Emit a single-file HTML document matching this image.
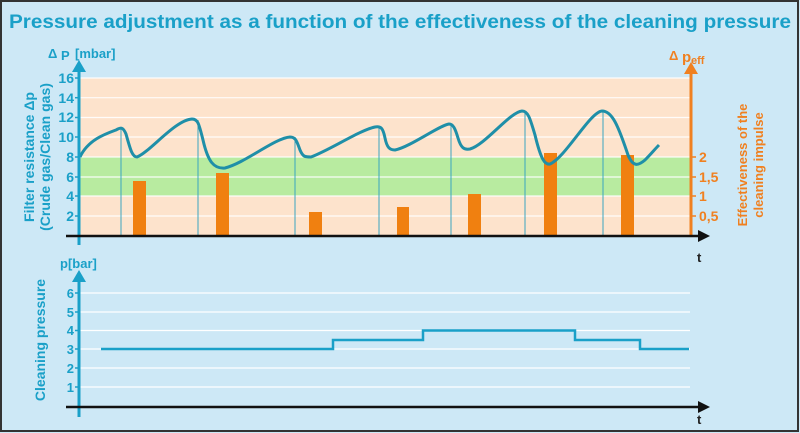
<!DOCTYPE html>
<html><head><meta charset="utf-8"><style>
html,body{margin:0;padding:0;background:#cde8f6}
svg{display:block}
text{font-family:"Liberation Sans",Arial,sans-serif;font-weight:bold}
</style></head><body>
<svg width="800" height="433" viewBox="0 0 800 433" xmlns="http://www.w3.org/2000/svg">
<rect x="1" y="1" width="797" height="430" fill="#cde8f6" stroke="#333" stroke-width="2"/>
<text x="9" y="28" font-size="19" fill="#1aa0c8" textLength="782" lengthAdjust="spacingAndGlyphs">Pressure adjustment as a function of the effectiveness of the cleaning pressure</text>

<rect x="80" y="78" width="610" height="158" fill="#fde3cc"/>
<rect x="80" y="157" width="610" height="39" fill="#b8eba0"/>
<g stroke="#fff" stroke-width="1.2" opacity="0.9">
<line x1="80" y1="78" x2="690" y2="78"/><line x1="80" y1="97.7" x2="690" y2="97.7"/>
<line x1="80" y1="117.5" x2="690" y2="117.5"/><line x1="80" y1="137" x2="690" y2="137"/>
<line x1="80" y1="157" x2="690" y2="157"/><line x1="80" y1="177" x2="690" y2="177"/>
<line x1="80" y1="196" x2="690" y2="196"/><line x1="80" y1="216" x2="690" y2="216"/>
</g>
<g stroke="#3aa6c0" stroke-width="1">
<line x1="121" y1="128" x2="121" y2="236"/><line x1="198" y1="120" x2="198" y2="236"/>
<line x1="295" y1="137" x2="295" y2="236"/><line x1="379" y1="127" x2="379" y2="236"/>
<line x1="451" y1="125" x2="451" y2="236"/><line x1="525" y1="111" x2="525" y2="236"/>
<line x1="603" y1="111" x2="603" y2="236"/>
</g>
<g fill="#f08010">
<rect x="133" y="181" width="13" height="55"/><rect x="216" y="173" width="13" height="63"/>
<rect x="309" y="212" width="13" height="24"/><rect x="397" y="207" width="12" height="29"/>
<rect x="468" y="194" width="13" height="42"/><rect x="544" y="153" width="13" height="83"/>
<rect x="621" y="155" width="13" height="81"/>
</g>
<path d="M80,157 C88,140 105,134 116,130 C121,127 123,127 126,134 C130,148 132,157 137,157 C150,152 175,120 192,119 C198,119 199,124 203,140 C208,162 214,169 225,168 C245,163 275,138 290,137 C296,137 297,142 300,150 C303,157 305,157 311,157 C330,150 360,130 375,127 C381,126 383,128 385,138 C387,148 390,150 395,150 C410,147 440,125 449,124 C453,124 455,128 458,138 C461,148 464,150 470,149 C485,145 510,112 522,111 C528,111 530,118 535,135 C541,160 545,165 550,164 C565,158 590,112 602,111 C612,111 618,125 628,155 C633,167 638,166 645,160 C651,154 655,149 659,145" fill="none" stroke="#1f8fa8" stroke-width="3"/>

<line x1="79" y1="70" x2="79" y2="245" stroke="#1aa0c8" stroke-width="3"/>
<polygon points="72,72 86,72 79,60" fill="#1aa0c8"/>
<g stroke="#1aa0c8" stroke-width="1.5">
<line x1="75" y1="78" x2="79" y2="78"/><line x1="75" y1="97.7" x2="79" y2="97.7"/><line x1="75" y1="117.5" x2="79" y2="117.5"/>
<line x1="75" y1="137" x2="79" y2="137"/><line x1="75" y1="157" x2="79" y2="157"/><line x1="75" y1="177" x2="79" y2="177"/>
<line x1="75" y1="196" x2="79" y2="196"/><line x1="75" y1="216" x2="79" y2="216"/>
</g>
<g font-size="14" fill="#1aa0c8" text-anchor="end">
<text x="74" y="83">16</text><text x="74" y="103">14</text><text x="74" y="122">12</text><text x="74" y="142">10</text>
<text x="74" y="162">8</text><text x="74" y="182">6</text><text x="74" y="201">4</text><text x="74" y="221">2</text>
</g>
<text x="48" y="58" font-size="13" fill="#1aa0c8">Δ</text><text x="61" y="60" font-size="13" fill="#1aa0c8">P</text><text x="75" y="58" font-size="13" fill="#1aa0c8">[mbar]</text>
<g font-size="14" fill="#1aa0c8">
<text transform="translate(34,157) rotate(-90)" text-anchor="middle">Filter resistance Δp</text>
<text transform="translate(50,157) rotate(-90)" text-anchor="middle">(Crude gas/Clean gas)</text>
</g>
<line x1="691" y1="72" x2="691" y2="236" stroke="#f08020" stroke-width="3"/>
<polygon points="684,74 698,74 691,62" fill="#f08020"/>
<g stroke="#f08020" stroke-width="1.5">
<line x1="691" y1="157" x2="696" y2="157"/><line x1="691" y1="177" x2="696" y2="177"/>
<line x1="691" y1="196" x2="696" y2="196"/><line x1="691" y1="216" x2="696" y2="216"/>
</g>
<g font-size="14" fill="#f08020">
<text x="699" y="162">2</text><text x="699" y="182">1,5</text><text x="699" y="201">1</text><text x="699" y="221">0,5</text>
</g>
<text x="669" y="60" font-size="13" fill="#f08020">Δ</text><text x="682" y="62" font-size="15" fill="#f08020">p</text><text x="691" y="64" font-size="11" fill="#f08020">eff</text>
<g font-size="13" fill="#f08020">
<text transform="translate(747,165) rotate(-90)" text-anchor="middle">Effectiveness of the</text>
<text transform="translate(763,165) rotate(-90)" text-anchor="middle">cleaning impulse</text>
</g>
<line x1="66" y1="236" x2="700" y2="236" stroke="#111" stroke-width="2.5"/>
<polygon points="698,230 710,236 698,242" fill="#111"/>
<text x="697" y="262" font-size="13" fill="#222">t</text>

<g stroke="#fff" stroke-width="1.2">
<line x1="80" y1="293" x2="690" y2="293"/><line x1="80" y1="312" x2="690" y2="312"/>
<line x1="80" y1="330.5" x2="690" y2="330.5"/><line x1="80" y1="349" x2="690" y2="349"/>
<line x1="80" y1="368" x2="690" y2="368"/><line x1="80" y1="387" x2="690" y2="387"/>
</g>
<line x1="79" y1="280" x2="79" y2="417" stroke="#1aa0c8" stroke-width="3"/>
<polygon points="72,282 86,282 79,270" fill="#1aa0c8"/>
<g stroke="#1aa0c8" stroke-width="1.5">
<line x1="75" y1="293" x2="79" y2="293"/><line x1="75" y1="312" x2="79" y2="312"/><line x1="75" y1="330.5" x2="79" y2="330.5"/>
<line x1="75" y1="349" x2="79" y2="349"/><line x1="75" y1="368" x2="79" y2="368"/><line x1="75" y1="387" x2="79" y2="387"/>
</g>
<g font-size="13" fill="#1aa0c8" text-anchor="end">
<text x="74" y="298">6</text><text x="74" y="317">5</text><text x="74" y="335">4</text>
<text x="74" y="354">3</text><text x="74" y="373">2</text><text x="74" y="392">1</text>
</g>
<text x="60" y="268" font-size="13" fill="#1aa0c8">p[bar]</text>
<text transform="translate(45,340) rotate(-90)" text-anchor="middle" font-size="14" fill="#1aa0c8">Cleaning pressure</text>
<polyline points="101,349 333,349 333,340 423,340 423,330.5 575,330.5 575,340 640,340 640,349 689,349" fill="none" stroke="#1aa0c8" stroke-width="2.5"/>
<line x1="66" y1="407" x2="700" y2="407" stroke="#111" stroke-width="2.5"/>
<polygon points="698,401 710,407 698,413" fill="#111"/>
<text x="697" y="424" font-size="13" fill="#222">t</text>
</svg>
</body></html>
